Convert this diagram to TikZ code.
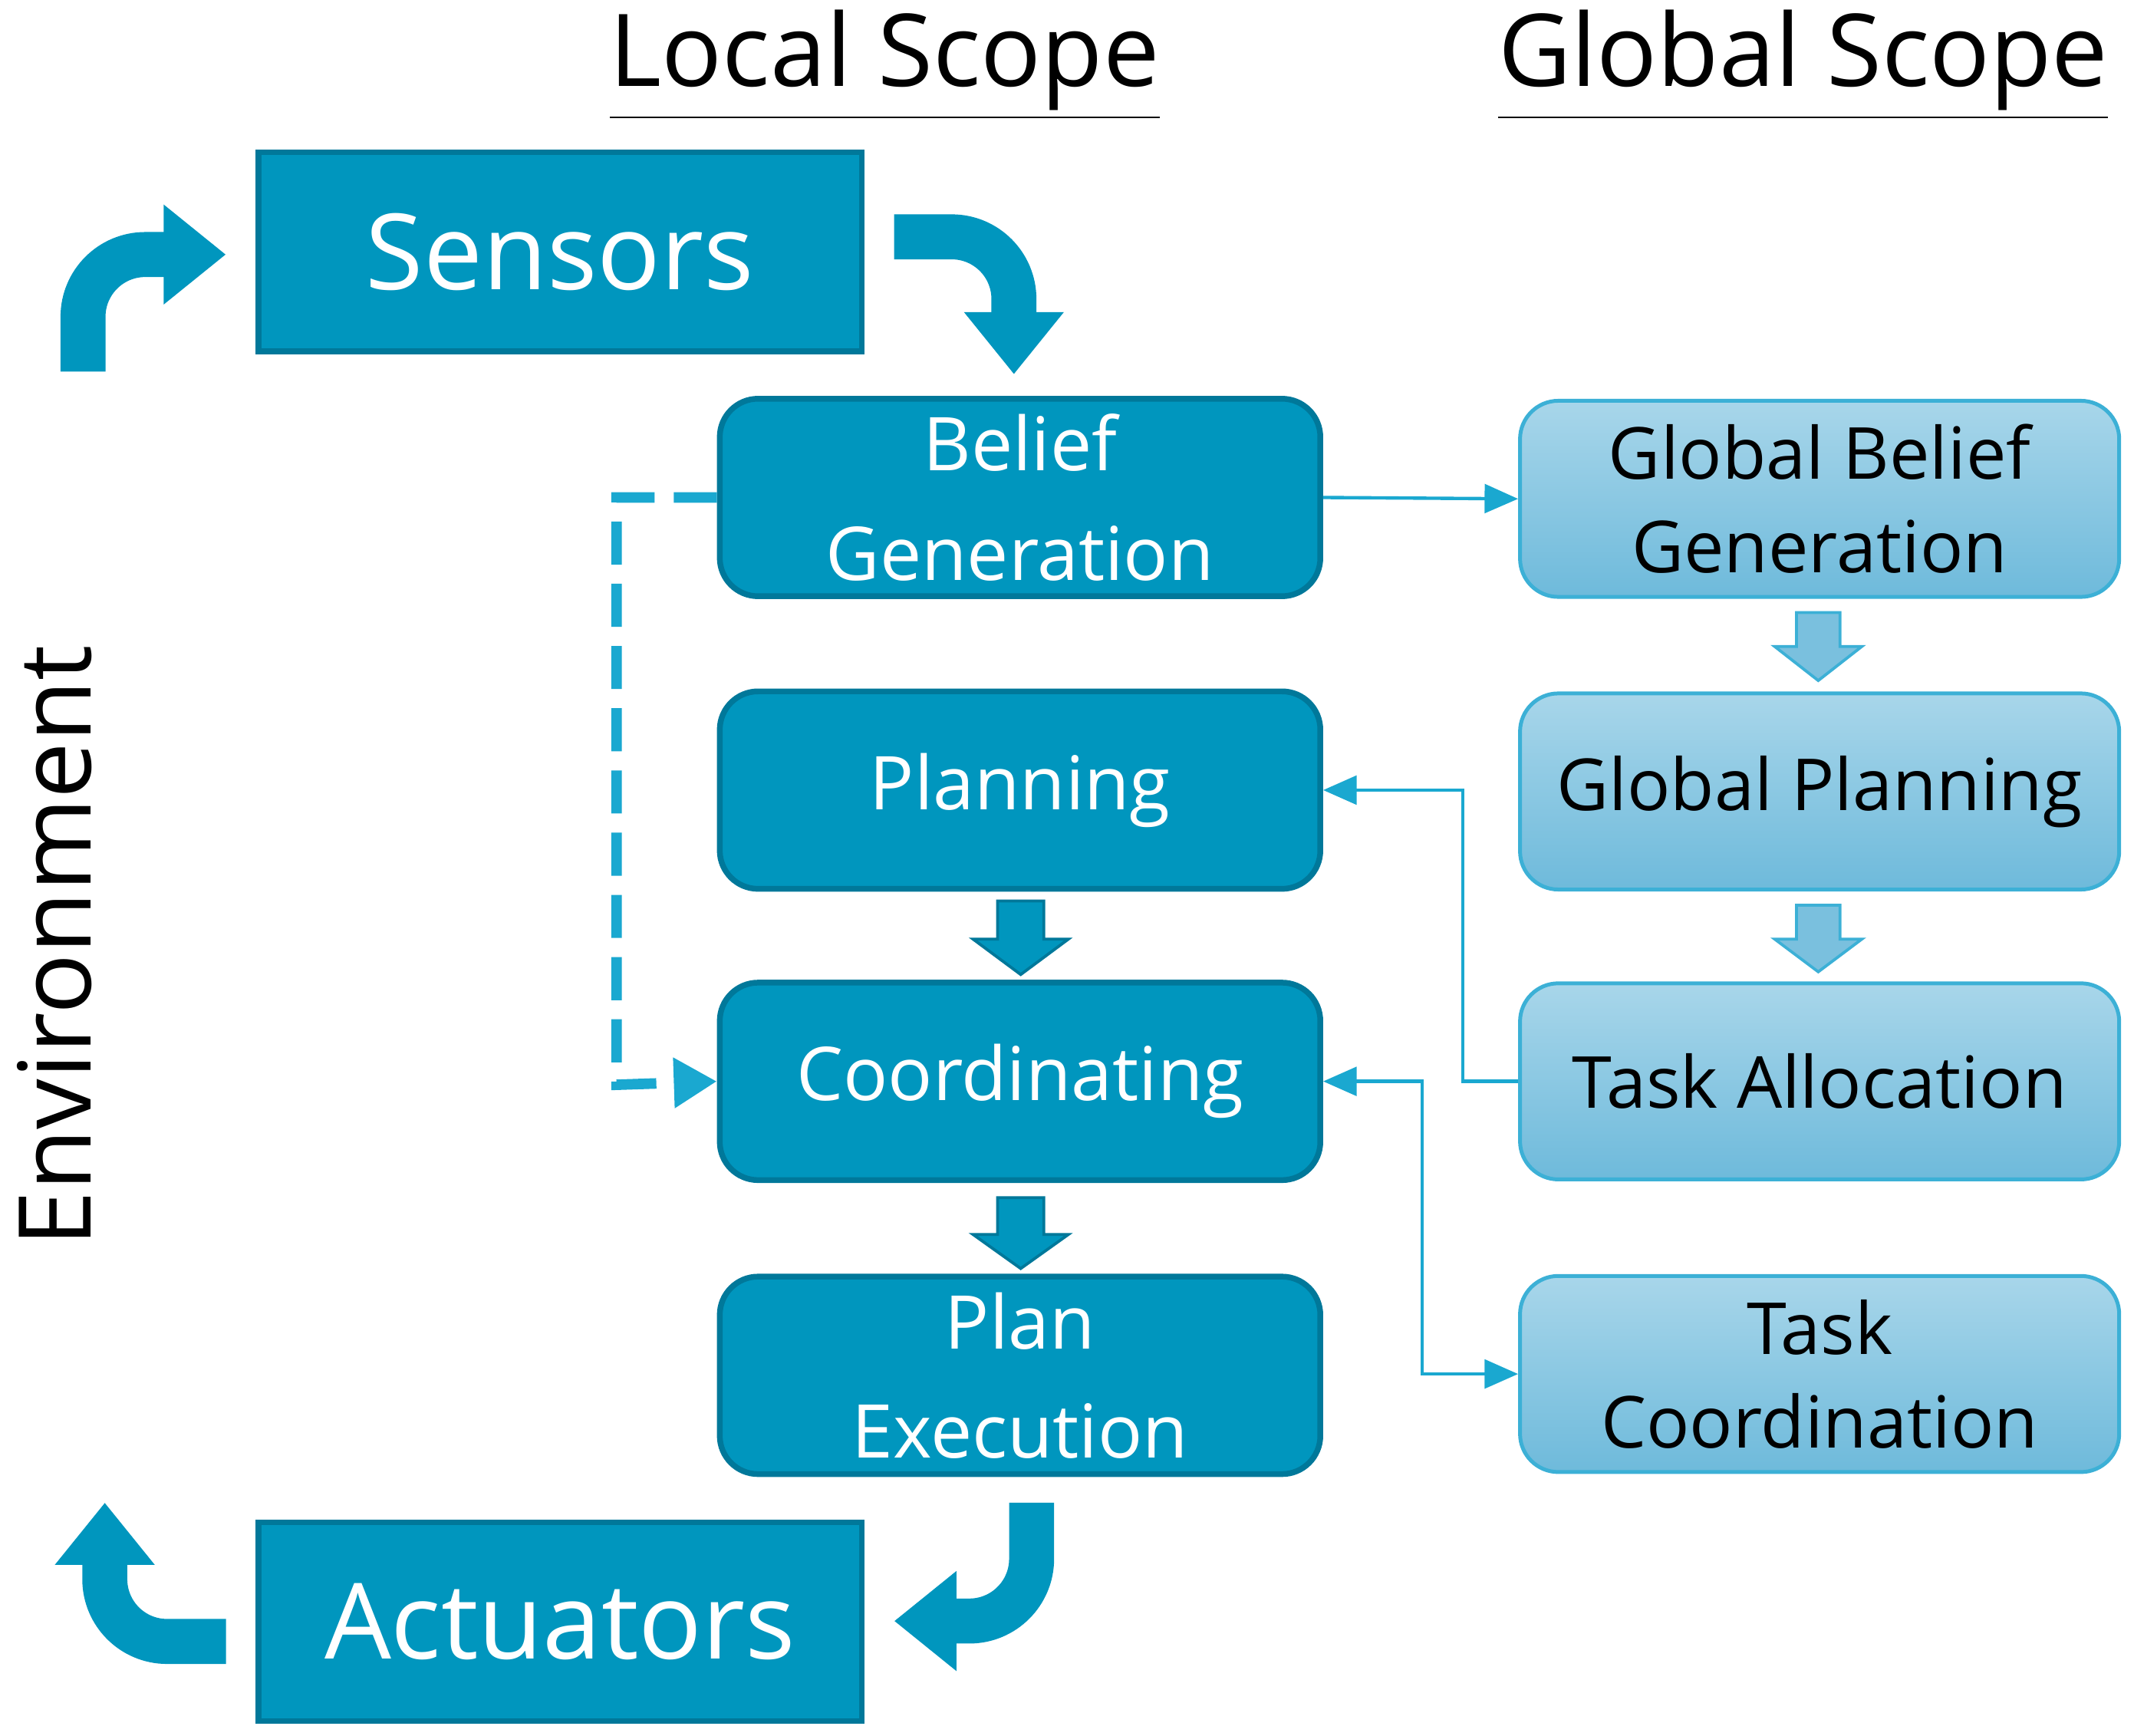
\documentclass[tikz,border=0pt]{standalone}
\usepackage{fontspec}
\setmainfont{Open Sans}
\usetikzlibrary{arrows.meta}
\definecolor{dk}{HTML}{0096BE}
\definecolor{dkb}{HTML}{00789A}
\definecolor{ltt}{HTML}{A8D6EA}
\definecolor{ltb}{HTML}{6EBADB}
\definecolor{ltbd}{HTML}{3CB0D6}
\definecolor{ln}{HTML}{1AA8D0}
\begin{document}
\begin{tikzpicture}[x=0.01cm,y=-0.01cm,
  sq/.style={draw=dkb,line width=1.2pt,fill=dk,text=white,minimum width=4.43cm,minimum height=1.46cm,font=\fontsize{22}{26}\selectfont,inner sep=0},
  loc/.style={draw=dkb,line width=1.2pt,fill=dk,text=white,rounded corners=8pt,minimum width=4.41cm,minimum height=1.45cm,align=center,font=\fontsize{15.5}{22.8}\selectfont,inner sep=0},
  glo/.style={draw=ltbd,line width=0.8pt,top color=ltt,bottom color=ltb,text=black,rounded corners=8pt,minimum width=4.40cm,minimum height=1.44cm,align=center,font=\fontsize{15}{19.5}\selectfont,inner sep=0},
  big/.style={draw=dkb,line width=0.6pt,fill=dk},
  bigl/.style={draw=ltbd,line width=0.6pt,fill=ltb!80!ltt},
  barrow/.style={line width=9.4pt,dk,rounded corners=13pt,-{Triangle[length=13pt,width=20pt]}},
  thin/.style={ln,line width=0.7pt,-{Triangle[length=7pt,width=6pt]}},
  ttl/.style={font=\fontsize{21}{25}\selectfont}]
\useasboundingbox (0,0) rectangle (1568,1275);
\node[ttl] (ls) at (650,48) {\underline{Local Scope}};
\node[ttl] (gs) at (1325,48) {\underline{Global Scope}};
\node[ttl,rotate=90] (env) at (40,695) {Environment};
\node[sq] (sen) at (411.5,185) {Sensors};
\node[sq] (act) at (411.5,1191.5) {Actuators};
\node[loc] (bg) at (749.5,365.5) {Belief\\Generation};
\node[loc] (pl) at (749.5,580.5) {Planning};
\node[loc] (co) at (749.5,794.5) {Coordinating};
\node[loc] (pe) at (749.5,1010.5) {Plan\\Execution};
\node[glo] (gbg) at (1337,366.5) {Global Belief\\Generation};
\node[glo] (gp) at (1337,581.5) {Global Planning};
\node[glo] (ta) at (1337,794.5) {Task Allocation};
\node[glo] (tc) at (1337,1009.5) {Task\\Coordination};
% bent arrows
\coordinate (a1) at (61,273);
\coordinate (a2) at (166,187);
\draw[barrow] (a1) -- (61,187) -- (a2);
\coordinate (b1) at (657,174);
\coordinate (b2) at (745,275);
\draw[barrow] (b1) -- (745,174) -- (b2);
\coordinate (c1) at (758,1104);
\coordinate (c2) at (657,1191);
\draw[barrow] (c1) -- (758,1191) -- (c2);
\coordinate (d1) at (166,1206);
\coordinate (d2) at (77,1104);
\draw[barrow] (d1) -- (77,1206) -- (d2);
% block down arrows
\draw[big] (733,662) -- (767,662) -- (767,690) -- (785,690) -- (750,716) -- (715,690) -- (733,690) -- cycle;
\draw[big] (733,880) -- (767,880) -- (767,907) -- (785,907) -- (750,932) -- (715,907) -- (733,907) -- cycle;
\draw[bigl] (1320,450) -- (1352,450) -- (1352,475) -- (1368,475) -- (1336,500) -- (1304,475) -- (1320,475) -- cycle;
\draw[bigl] (1320,665) -- (1352,665) -- (1352,690) -- (1368,690) -- (1336,714) -- (1304,690) -- (1320,690) -- cycle;
% dashed
\draw[ln,line width=2.2pt,dash pattern=on 9pt off 4pt,-{Triangle[length=9pt,width=10pt]}] (bg.west) -- (453,365.5) -- (453,797) -- (co.west);
% thin connectors
\draw[thin] (bg.east) -- (gbg.west);
\draw[thin] (ta.west) -- (1075,794.5) -- (1075,580.5) -- (pl.east);
\draw[thin,{Triangle[length=7pt,width=6pt]}-{Triangle[length=7pt,width=6pt]}] (co.east) -- (1045,794.5) -- (1045,1009.5) -- (tc.west);
\end{tikzpicture}
\end{document}
